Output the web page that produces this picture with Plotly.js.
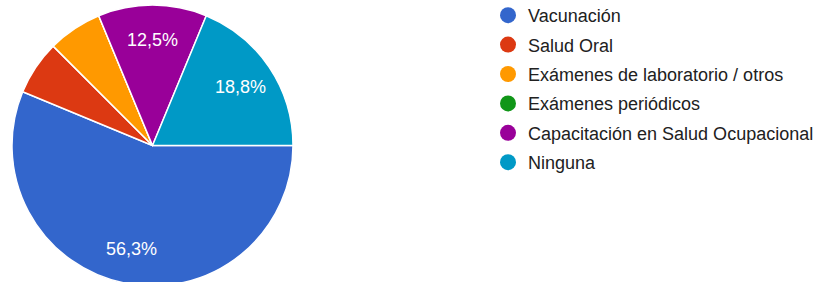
<!DOCTYPE html>
<html>
<head>
<meta charset="utf-8">
<script src="https://cdn.plot.ly/plotly-3.0.1.min.js"></script>
<style>
html,body{margin:0;padding:0;overflow:hidden;background:#fff;}
#chart{width:826px;height:303px;margin-top:-3px;}
</style>
</head>
<body>
<div id="chart"></div>
<script>
const categories = ["Vacunación", "Salud Oral", "Exámenes de laboratorio / otros", "Exámenes periódicos", "Capacitación en Salud Ocupacional", "Ninguna"];
const responses = [9, 1, 1, 0, 2, 3];
const colors = ["#3366cc", "#dc3912", "#ff9900", "#109618", "#990099", "#0099c6"];

const W = 826, H = 303, OFF = 3;   // paper is shifted up by OFF px
const cx = 152.5, cy = 145.5 + OFF, R = 140.5;
const startAngle = 90;      // first slice starts at 3 o'clock, clockwise
const labelRadius = 0.75;   // labels placed at 75% of the radius
const minLabelShare = 0.1;  // smaller slices carry no label

const total = responses.reduce((a, b) => a + b, 0);
const shares = responses.map(v => v / total);
let cum = 0;
const midAngles = shares.map(s => { const m = startAngle + (cum + s / 2) * 360; cum += s; return m; });

const domain = {x: [(cx - R) / W, (cx + R) / W], y: [1 - (cy + R) / H, 1 - (cy - R) / H]};
const font = "Liberation Sans, Arial, sans-serif";

const pie = {
  type: "pie",
  labels: categories,
  values: responses,
  sort: false,
  direction: "clockwise",
  rotation: startAngle,
  marker: {colors: colors, line: {color: "#ffffff", width: 1.5}},
  textinfo: "none",
  hoverinfo: "label+percent",
  showlegend: false,
  domain: domain
};

const legendTraces = categories.map((c, i) => ({
  type: "scatter",
  mode: "markers",
  x: [null], y: [null],
  name: c,
  legendgroup: "g" + i,
  marker: {color: colors[i], size: 19, symbol: "circle"},
  showlegend: true,
  hoverinfo: "skip"
}));

const fmtPct = s => (s * 100).toFixed(1).replace(".", ",") + "%";
const annotations = shares.map((s, i) => ({s, i})).filter(o => o.s >= minLabelShare).map(o => {
  const a = midAngles[o.i] * Math.PI / 180;
  return {
    xref: "x", yref: "y",
    x: labelRadius * Math.sin(a), y: labelRadius * Math.cos(a),
    text: fmtPct(o.s),
    showarrow: false,
    xanchor: "center", yanchor: "middle",
    font: {family: font, size: 18, color: "#ffffff"}
  };
});

const layout = {
  width: W, height: H,
  margin: {l: 0, r: 0, t: 0, b: 0},
  paper_bgcolor: "#ffffff",
  plot_bgcolor: "rgba(0,0,0,0)",
  xaxis: {visible: false, domain: domain.x, range: [-1, 1], fixedrange: true},
  yaxis: {visible: false, domain: domain.y, range: [-1, 1], fixedrange: true},
  annotations: annotations,
  showlegend: true,
  legend: {
    x: 488 / W, xanchor: "left",
    y: 1, yanchor: "top",
    traceorder: "grouped",
    tracegroupgap: 3,
    font: {family: font, size: 18, color: "#212121"},
    bgcolor: "rgba(0,0,0,0)",
    itemclick: false, itemdoubleclick: false
  }
};

Plotly.newPlot("chart", [pie].concat(legendTraces), layout, {displayModeBar: false, staticPlot: true});
</script>
</body>
</html>
